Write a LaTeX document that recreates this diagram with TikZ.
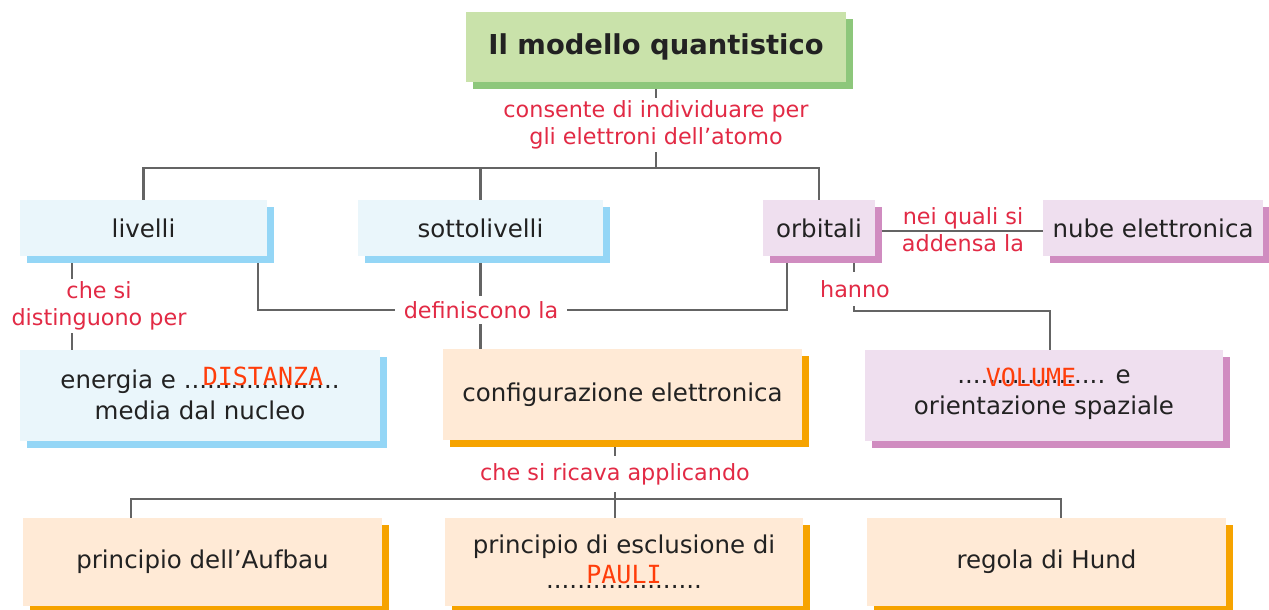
\documentclass[tikz,border=0pt]{standalone}
\usepackage{fontspec}
\setmainfont{DejaVu Sans}
\newfontfamily\answerfont{DejaVu Sans Mono}
\usetikzlibrary{positioning, shadows, backgrounds}
\definecolor{qmgreen}{HTML}{C9E2AA}
\definecolor{qmgreendark}{HTML}{8DC77B}
\definecolor{qmblue}{HTML}{EAF6FB}
\definecolor{qmbluedark}{HTML}{94D6F6}
\definecolor{qmpink}{HTML}{EFDFEF}
\definecolor{qmpinkdark}{HTML}{D08CC0}
\definecolor{qmpeach}{HTML}{FFEAD6}
\definecolor{qmorange}{HTML}{F6A300}
\definecolor{qmline}{HTML}{646464}
\definecolor{qmred}{HTML}{E22A45}
\definecolor{qmanswer}{HTML}{FF3D0A}
\definecolor{qmtext}{HTML}{222222}

\begin{document}
\begin{tikzpicture}[x=1pt, y=-1pt,
        box/.style={rectangle, inner sep=0pt, align=center, text=qmtext, font=\fontsize{24.5}{31}\selectfont},
        greenbox/.style={box, fill=qmgreen, general shadow={fill=qmgreendark, shadow xshift=7pt, shadow yshift=-7pt}},
        bluebox/.style={box, fill=qmblue, general shadow={fill=qmbluedark, shadow xshift=7pt, shadow yshift=-7pt}},
        pinkbox/.style={box, fill=qmpink, general shadow={fill=qmpinkdark, shadow xshift=7pt, shadow yshift=-7pt}},
        peachbox/.style={box, fill=qmpeach, general shadow={fill=qmorange, shadow xshift=7pt, shadow yshift=-7pt}},
        toprow/.style={minimum height=56pt},
        midrow/.style={minimum width=359pt, minimum height=91pt},
        lowrow/.style={minimum width=359pt, minimum height=88pt},
        linklabel/.style={align=center, text=qmred, fill=white, inner sep=5pt, font=\fontsize{22.3}{27}\selectfont},
        answer/.style={text=qmanswer, inner sep=0pt, font=\answerfont\fontsize{25}{25}\selectfont},
        connector/.style={draw=qmline, line width=2.6pt}
    ]
    % Title
    \node[greenbox, minimum width=380pt, minimum height=70pt, font=\fontsize{27.4}{32}\selectfont\bfseries] (model) at (656,47) {Il modello quantistico};
    \node[linklabel, inner sep=3pt] (allows) at (656,125) {consente di individuare per\\gli elettroni dell’atomo};

    % Levels, sublevels, orbitals
    \node[bluebox, toprow, minimum width=247pt] (lev) at (143.5,228) {livelli};
    \node[bluebox, toprow, minimum width=245pt] (sub) at (480.5,228) {sottolivelli};
    \node[pinkbox, toprow, minimum width=112pt] (orb) at (819,228) {orbitali};
    \node[pinkbox, toprow, minimum width=220pt] (cloud) at (1153,228) {nube elettronica};
    \node[linklabel, fill=none] (thicken) at (963,230) {nei quali si\\addensa la};
    \node[linklabel, inner sep=3pt] (differ) at (99,306) {che si\\distinguono per};
    \node[linklabel, inner xsep=9pt] (define) at (481,310) {definiscono la};
    \node[linklabel, inner ysep=8pt] (have) at (855,289) {hanno};

    % Properties
    \node[bluebox, midrow, minimum width=360pt] (dist) at (200,395) {energia e ....................\\media dal nucleo};
    \node[peachbox, midrow] (conf) at (622.5,394.5) {configurazione elettronica};
    \node[pinkbox, midrow, minimum width=358pt] (vol) at (1044,395) {................... e\\orientazione spaziale};
    \node[answer] (distans) at (263,376) {DISTANZA};
    \node[answer] (volans) at (1031,377) {VOLUME};
    \node[linklabel, inner ysep=7pt] (derive) at (615,474) {che si ricava applicando};

    % Rules
    \node[peachbox, lowrow] (auf) at (202.5,562) {principio dell’Aufbau};
    \node[peachbox, lowrow, minimum width=358pt] (pauli) at (624,562) {principio di esclusione di\\[4pt]....................};
    \node[peachbox, lowrow] (hund) at (1046.5,562) {regola di Hund};
    \node[answer] (paulians) at (624,575) {PAULI};

    % Connectors
    \begin{scope}[on background layer]
        \fill[white] (0,0) rectangle (1269,610);
        \coordinate (split1) at (656,168);
        \coordinate (split2) at (615,499);
        \coordinate (lev-down) at ([xshift=-71.5pt]lev.center);
        \coordinate (lev-def) at ([xshift=114.5pt]lev.center);
        \coordinate (orb-def) at ([xshift=-32pt]orb.center);
        \coordinate (orb-have) at ([xshift=35pt]orb.center);
        \coordinate (have-bend) at (854,311);
        \coordinate (vol-in) at ([xshift=6pt]vol.center);
        \coordinate (conf-out) at ([xshift=-7.5pt]conf.center);
        \coordinate (auf-in) at ([xshift=-71.5pt]auf.center);
        \coordinate (pauli-in) at ([xshift=-9pt]pauli.center);
        \coordinate (hund-in) at ([xshift=14.5pt]hund.center);
        \draw[connector] (model.center) -- (split1);
        \draw[connector] (lev.center) |- (split1) -| (orb.center);
        \draw[connector] (sub.center) -- (sub.center |- split1);
        \draw[connector] ([yshift=-3pt]orb.center) -- ([yshift=-3pt]cloud.center);
        \draw[connector] (lev-down) -- (lev-down |- dist.center);
        \draw[connector] (lev-def) |- (define.center) -| (orb-def);
        \draw[connector] (sub.center) -- (sub.center |- conf.center);
        \draw[connector] (orb-have) -- (have-bend) -| (vol-in);
        \draw[connector] (conf-out) -- (split2);
        \draw[connector] (auf-in) |- (split2) -| (hund-in);
        \draw[connector] (pauli-in) -- (split2);
    \end{scope}
    \useasboundingbox (0,0) rectangle (1269,610);
\end{tikzpicture}
\end{document}
